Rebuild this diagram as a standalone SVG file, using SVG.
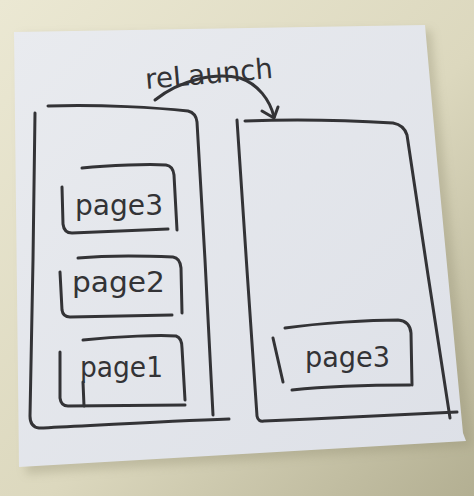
<svg xmlns="http://www.w3.org/2000/svg" width="474" height="496" viewBox="0 0 474 496">
  <defs>
    <linearGradient id="desk" x1="0" y1="0" x2="1" y2="1">
      <stop offset="0" stop-color="#ebe8d3"/>
      <stop offset="0.55" stop-color="#dcd8be"/>
      <stop offset="1" stop-color="#b3af92"/>
    </linearGradient>
    <linearGradient id="paper" x1="0" y1="0" x2="1" y2="1">
      <stop offset="0" stop-color="#e9ebef"/>
      <stop offset="1" stop-color="#dde0e7"/>
    </linearGradient>
    <filter id="soft" x="-10%" y="-10%" width="120%" height="120%">
      <feGaussianBlur stdDeviation="5"/>
    </filter>
    <style>
      .ink { fill: none; stroke: #333336; stroke-width: 3; stroke-linecap: round; stroke-linejoin: round; }
      .hand { font-family: "DejaVu Sans", "Noto Sans", sans-serif; font-size: 28px; fill: #333336; }
    </style>
  </defs>

  <!-- desk surface and the sticky note -->
  <rect x="0" y="0" width="474" height="496" fill="url(#desk)"/>
  <path d="M20,36 L431,30 L472,446 L26,474 Z" fill="#8f8b70" opacity="0.35" filter="url(#soft)"/>
  <path d="M14,32 L425,25 L437,160 L463,433 L466,441 L19,467 Z" fill="url(#paper)"/>

  <!-- left stack: page1, page2, page3 -->
  <g id="stack-before">
    <path class="ink" d="M48,106 C100,104 160,108 188,111 Q196,113 197,122 L205,260 L213,415"/>
    <path class="ink" d="M35,113 L33,260 L30,416 Q30,427 39,428 C100,425 170,421 229,419"/>
  </g>
  <g id="page3-before">
    <path class="ink" d="M82,168 C110,165 150,164 166,165 Q173,166 174,175 L177,230"/>
    <path class="ink" d="M62,187 L63,224 Q64,233 72,233 L168,229"/>
    <text class="hand" x="75" y="215" textLength="88" lengthAdjust="spacingAndGlyphs">page3</text>
  </g>
  <g id="page2-before">
    <path class="ink" d="M78,258 C110,255 150,256 173,257 Q180,258 181,268 L182,313"/>
    <path class="ink" d="M60,272 L62,310 Q63,317 70,317 L172,315"/>
    <text class="hand" x="72" y="292" textLength="93" lengthAdjust="spacingAndGlyphs">page2</text>
  </g>
  <g id="page1-before">
    <path class="ink" d="M83,340 C120,336 160,335 176,336 Q182,338 182,348 L185,400"/>
    <path class="ink" d="M60,352 L60,398 Q61,406 68,406 L185,405"/>
    <path class="ink" d="M83,382 L84,406"/>
    <text class="hand" x="80" y="377" textLength="83" lengthAdjust="spacingAndGlyphs">page1</text>
  </g>

  <!-- right stack after relaunch: only page3 -->
  <g id="stack-after">
    <path class="ink" d="M245,121 C300,119 360,121 393,123 Q404,125 407,135 L428,275 L450,418"/>
    <path class="ink" d="M237,120 L247,270 L257,416 Q258,422 264,421 C330,418 400,415 457,412"/>
  </g>
  <g id="page3-after">
    <path class="ink" d="M285,328 C320,323 370,320 398,320 Q410,321 411,333 L412,385"/>
    <path class="ink" d="M292,390 C330,386 370,385 410,385"/>
    <path class="ink" d="M273,338 L283,382"/>
    <text class="hand" x="305" y="367" textLength="85" lengthAdjust="spacingAndGlyphs">page3</text>
  </g>

  <!-- reLaunch connector -->
  <g id="connectors">
    <path class="ink" d="M155,100 C180,80 215,72 240,78 C258,84 270,100 274,117"/>
    <path class="ink" d="M262,111 L274,118 L278,107"/>
    <text class="hand" x="146" y="89" textLength="128" lengthAdjust="spacingAndGlyphs" transform="rotate(-5 146 89)">reLaunch</text>
  </g>
</svg>
